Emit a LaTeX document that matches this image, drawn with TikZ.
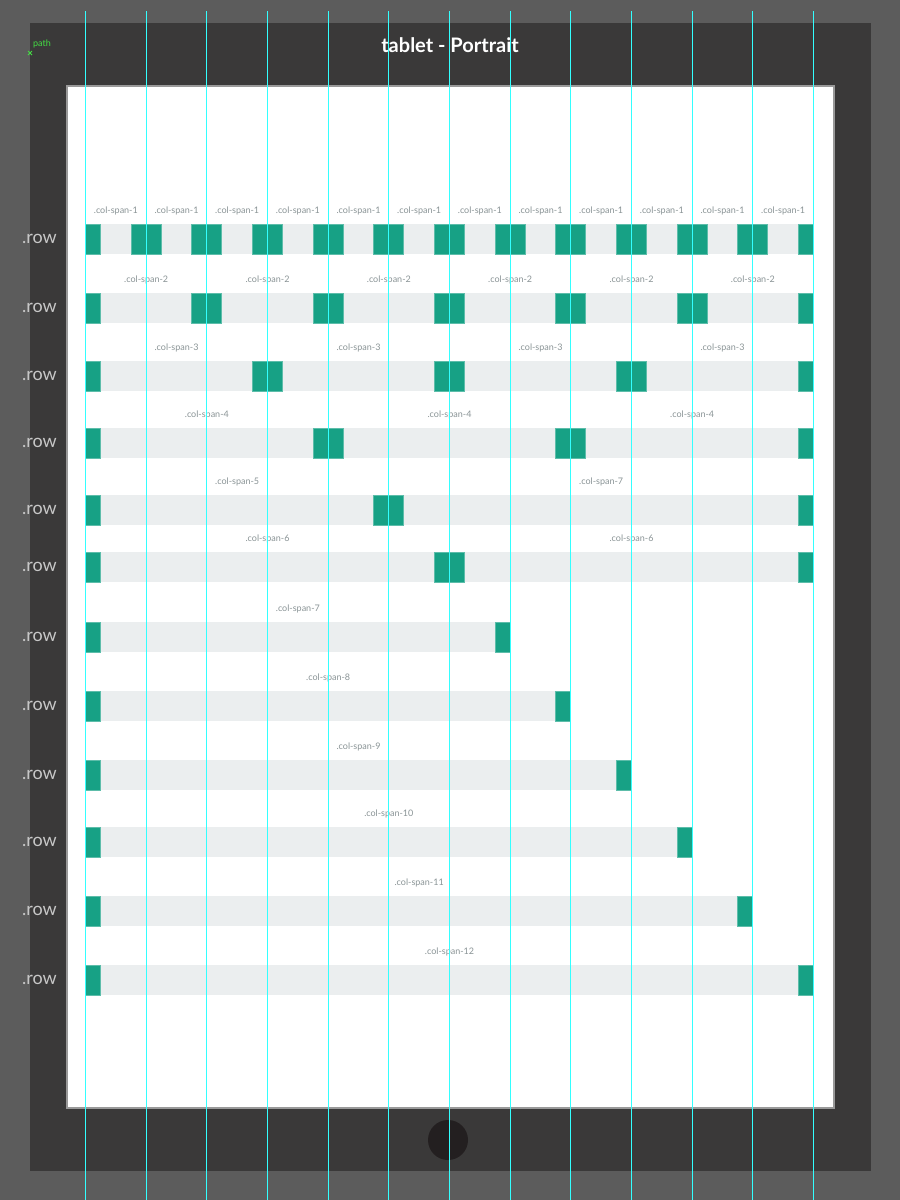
\documentclass[tikz,border=0pt]{standalone}
\usepackage{fontspec}
\setmainfont{Lato}
\definecolor{outergray}{HTML}{5C5C5C}
\definecolor{bodygray}{HTML}{3A3939}
\definecolor{homegray}{HTML}{231F20}
\definecolor{gutterteal}{HTML}{17A185}
\definecolor{barfill}{HTML}{EBEEEF}
\definecolor{labelgray}{HTML}{8A9496}
\definecolor{guidecyan}{HTML}{33FFFF}
\definecolor{pathgreen}{HTML}{44DD44}
\tikzset{
  rowbar/.style={fill=barfill},
  gutter/.style={fill=gutterteal, draw=gutterteal!70!white, line width=0.6pt},
  spanlabel/.style={font=\fontsize{9}{10}\selectfont, text=labelgray, inner sep=0pt},
  rowlabel/.style={font=\fontsize{18}{19}\selectfont, text=white!78!black, anchor=east, inner sep=0pt},
  guide/.style={draw=guidecyan, line width=1.7pt}
}
% one row of the grid: #1 name, #2 y centre, #3 last column, #4 spans a/b
\newcommand\gridrow[4]{%
  \node[rowlabel] (row#1) at (57,#2) {.row};
  \pgfmathsetmacro\ex{round(85+#3*\colw)}
  \fill[rowbar] (85,#2-15) rectangle (\ex,#2+15);
  \fill[gutter] (85.5,#2-15) rectangle (100.5,#2+15);
  \foreach \a/\b in {#4} {
    \pgfmathsetmacro\bx{round(85+\b*\colw)}
    \pgfmathsetmacro\hw{\b<#3 ? 15.5 : 0.5}
    \fill[gutter] (\bx-14.5,#2-15) rectangle (\bx+\hw,#2+15);
    \node[spanlabel] (lbl#1-\b) at ({85.5+(\a+\b)/2*\colw},#2-28)
      {.col-span-\pgfmathparse{int(\b-\a)}\pgfmathresult};
  }
}
\begin{document}
\begin{tikzpicture}[x=1pt,y=-1pt]
    \def\colw{60.667}
    \useasboundingbox (0,0) rectangle (900,1200);

    % device frame
    \fill[outergray] (0,0) rectangle (900,1200);
    \fill[bodygray] (30,23) rectangle (871,1171);
    \fill[white, draw=white!60!black, line width=1.5pt] (67,86) rectangle (834,1108);
    \fill[homegray] (448,1140) circle (20);
    \node[font=\bfseries\fontsize{20}{22}\selectfont, text=white] (title) at (450,45) {tablet - Portrait};

    % path marker
    \node[font=\fontsize{9}{10}\selectfont, text=pathgreen, anchor=west, inner sep=0pt] (pathlbl) at (33,44) {path};
    \draw[pathgreen, line width=0.8pt] (28,51) -- (32,55) (28,55) -- (32,51);

    % grid rows
    \gridrow{a}{239}{12}{0/1,1/2,2/3,3/4,4/5,5/6,6/7,7/8,8/9,9/10,10/11,11/12}
    \gridrow{b}{308}{12}{0/2,2/4,4/6,6/8,8/10,10/12}
    \gridrow{c}{376}{12}{0/3,3/6,6/9,9/12}
    \gridrow{d}{443}{12}{0/4,4/8,8/12}
    \gridrow{e}{510}{12}{0/5,5/12}
    \gridrow{f}{567}{12}{0/6,6/12}
    \gridrow{g}{637}{7}{0/7}
    \gridrow{h}{706}{8}{0/8}
    \gridrow{i}{775}{9}{0/9}
    \gridrow{j}{842}{10}{0/10}
    \gridrow{k}{911}{11}{0/11}
    \gridrow{l}{980}{12}{0/12}

    % column guides
    \foreach \k in {0,...,12} {
      \pgfmathsetmacro\gx{round(85+\k*\colw)+0.5}
      \draw[guide] (\gx,11) -- (\gx,1200);
    }
\end{tikzpicture}
\end{document}
